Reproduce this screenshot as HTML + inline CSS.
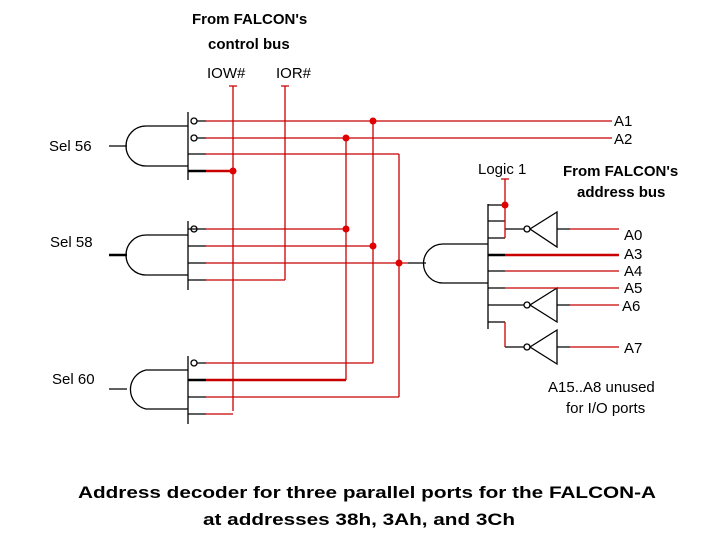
<!DOCTYPE html>
<html><head><style>html,body{margin:0;padding:0;background:#fff}svg{display:block}</style></head><body>
<svg width="720" height="540" viewBox="0 0 720 540" xmlns="http://www.w3.org/2000/svg" font-family="Liberation Sans, sans-serif">
<g fill="none" stroke="#000" stroke-width="1.3">
<!-- gate 1 -->
<line x1="188" y1="112" x2="188" y2="180"/>
<path d="M188 126 H146 A20 20 0 0 0 146 166 H188"/>
<line x1="109" y1="146" x2="127" y2="146"/>
<!-- gate 2 -->
<line x1="188" y1="221" x2="188" y2="290"/>
<path d="M188 235 H146 A20 20 0 0 0 146 275 H188"/>
<line x1="109" y1="255" x2="127" y2="255" stroke-width="2.5"/>
<!-- gate 3 -->
<line x1="188" y1="356" x2="188" y2="424"/>
<path d="M188 370 H146 A20 20 0 0 0 146 409 H188"/>
<line x1="109" y1="389" x2="127" y2="389"/>
<!-- black input stubs -->
<path d="M197 121H206M197 138H206M188 154H206M188 229H206 M197 229H206M188 246H206M188 263H206M188 280H206M197 363H206M188 397H206M188 414H206"/>
<path d="M188 171H206M188 380H206" stroke-width="2.5"/>
<!-- big gate -->
<line x1="488" y1="204" x2="488" y2="329"/>
<path d="M488 244 H443 A19.5 19.5 0 0 0 443 283 H488"/>
<line x1="408" y1="263" x2="426" y2="263"/>
<path d="M488 205H505M488 221H505M488 238H505M488 271H505M488 288H505M488 305H524M488 322H505"/>
<line x1="488" y1="255" x2="505" y2="255" stroke-width="2.5"/>
<!-- inverters -->
<path d="M505 229H524M557 212 L530 229 L557 247 Z M557 229H570"/>
<circle cx="527" cy="229" r="3"/>
<path d="M557 288 L530 305 L557 322 Z M557 305H570"/>
<circle cx="527" cy="305" r="3"/>
<path d="M505 347H524M557 330 L530 347 L557 364 Z M557 347H570"/>
<circle cx="527" cy="347" r="3"/>
<circle cx="194" cy="121" r="3"/><circle cx="194" cy="138" r="3"/><circle cx="194" cy="229" r="3"/><circle cx="194" cy="363" r="3"/>
</g>
<g fill="none" stroke="#c80000" stroke-width="1.3">
<path d="M233 86V411 M285 86V280 M346 138V380 M373 121V363 M399 154V397"/>
<path d="M229 86H237M281 86H289"/>
<path d="M206 121H612M206 138H612M206 154H399M206 229H346M206 246H373M206 263H408M206 280H285M206 363H373M206 397H399M206 414H233"/>
<path d="M206 171H233M206 380H346" stroke-width="2.5"/>
<path d="M505 179V238M501 179H509 M505 322V347 M570 229H619M505 255H619M505 271H619M505 288H619M570 305H619M570 347H619"/>
<path d="M505 255H619" stroke-width="2.5"/>
</g>
<g fill="#e00000">
<circle cx="233" cy="171" r="3.5"/><circle cx="373" cy="121" r="3.5"/><circle cx="346" cy="138" r="3.5"/>
<circle cx="346" cy="229" r="3.5"/><circle cx="373" cy="246" r="3.5"/><circle cx="399" cy="263" r="3.5"/>
<circle cx="505" cy="205" r="3.5"/>
</g>
<g font-size="15" fill="#000">
<text x="49" y="151">Sel 56</text>
<text x="50" y="247">Sel 58</text>
<text x="52" y="384">Sel 60</text>
<text x="207" y="78">IOW#</text>
<text x="276" y="78">IOR#</text>
<text x="478" y="174">Logic 1</text>
<text x="614" y="126">A1</text>
<text x="614" y="144">A2</text>
<text x="624" y="240">A0</text>
<text x="624" y="259">A3</text>
<text x="624" y="276">A4</text>
<text x="624" y="293">A5</text>
<text x="622" y="311">A6</text>
<text x="624" y="353">A7</text>
<text x="548" y="392">A15..A8 unused</text>
<text x="566" y="413">for I/O ports</text>
</g>
<g font-size="15" font-weight="bold" fill="#000">
<text x="192" y="24">From FALCON's</text>
<text x="208" y="49">control bus</text>
<text x="563" y="176">From FALCON's</text>
<text x="577" y="197">address bus</text>
</g>
<g font-size="17" font-weight="bold" fill="#000">
<text x="78" y="498" textLength="578" lengthAdjust="spacingAndGlyphs">Address decoder for three parallel ports for the FALCON-A</text>
<text x="203" y="525" textLength="312" lengthAdjust="spacingAndGlyphs">at addresses 38h, 3Ah, and 3Ch</text>
</g>
</svg>
</body></html>
